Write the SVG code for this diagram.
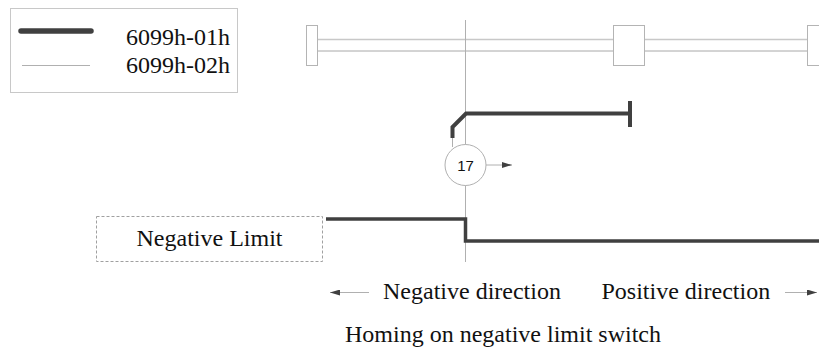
<svg xmlns="http://www.w3.org/2000/svg" width="819" height="356" viewBox="0 0 819 356">
<style>
.t{font-family:"Liberation Serif","Times New Roman",serif;font-size:24px;fill:#111}
.thin{stroke:#b0b0b0;stroke-width:1;fill:none}
.thick{stroke:#404040;stroke-width:4;fill:none}
.box{fill:#fff;stroke:#b4b4b4;stroke-width:1}
</style>
<defs>
<marker id="ah" viewBox="0 0 10 6" refX="10" refY="3" markerWidth="10" markerHeight="6" markerUnits="userSpaceOnUse" orient="auto">
<path d="M0,0 L10,3 L0,6 Z" fill="#404040"/>
</marker>
</defs>
<rect width="819" height="356" fill="#fff"/>
<g id="legend">
<rect x="10.5" y="8.5" width="227" height="84" fill="#fff" stroke="#c8c8c8" stroke-width="1"/>
<line x1="21" y1="31" x2="91" y2="31" stroke="#404040" stroke-width="5.5" stroke-linecap="round"/>
<line x1="22" y1="65.5" x2="90" y2="65.5" class="thin"/>
<text x="126" y="45" class="t">6099h-01h</text>
<text x="126" y="73" class="t">6099h-02h</text>
</g>
<g id="rail">
<line x1="317" y1="39.5" x2="808" y2="39.5" stroke="#c8c8c8" stroke-width="1.5"/>
<line x1="317" y1="51" x2="808" y2="51" stroke="#a8a8a8" stroke-width="1"/>
<rect x="306.5" y="25.5" width="11" height="40" class="box"/>
<rect x="613.5" y="25.5" width="31" height="40" class="box"/>
<rect x="807.5" y="25.5" width="14" height="40" class="box"/>
</g>
<g id="connectors">
<line x1="465.5" y1="20" x2="465.5" y2="262" class="thin"/>
<line x1="452.5" y1="136" x2="452.5" y2="147" class="thin"/>
<path d="M452.5,138 L452.5,127 L466,113.5 L630,113.5" class="thick"/>
<line x1="630" y1="101" x2="630" y2="127" stroke="#404040" stroke-width="4"/>
<path d="M326,219 L465.5,219 L465.5,241 L819,241" stroke="#404040" stroke-width="3.5" fill="none"/>
<line x1="486" y1="165" x2="512" y2="165" class="thin" marker-end="url(#ah)"/>
<line x1="369" y1="292.5" x2="330" y2="292.5" class="thin" marker-end="url(#ah)"/>
<line x1="785" y1="292.5" x2="817" y2="292.5" class="thin" marker-end="url(#ah)"/>
</g>
<g id="node17">
<circle cx="465.5" cy="165" r="20.5" fill="#fff" stroke="#b0b0b0" stroke-width="1"/>
<text x="465.5" y="170.5" text-anchor="middle" font-family="Liberation Sans, Arial, sans-serif" font-size="15" fill="#111">17</text>
</g>
<g id="negative-limit">
<rect x="96.5" y="216.5" width="226" height="45" fill="#fff" stroke="#a0a0a0" stroke-width="1" stroke-dasharray="3,2"/>
<text x="209.5" y="246" text-anchor="middle" class="t">Negative Limit</text>
</g>
<g id="labels">
<text x="383" y="299" class="t">Negative direction</text>
<text x="601.5" y="299" class="t">Positive direction</text>
<text x="345" y="342" class="t">Homing on negative limit switch</text>
</g>
</svg>
